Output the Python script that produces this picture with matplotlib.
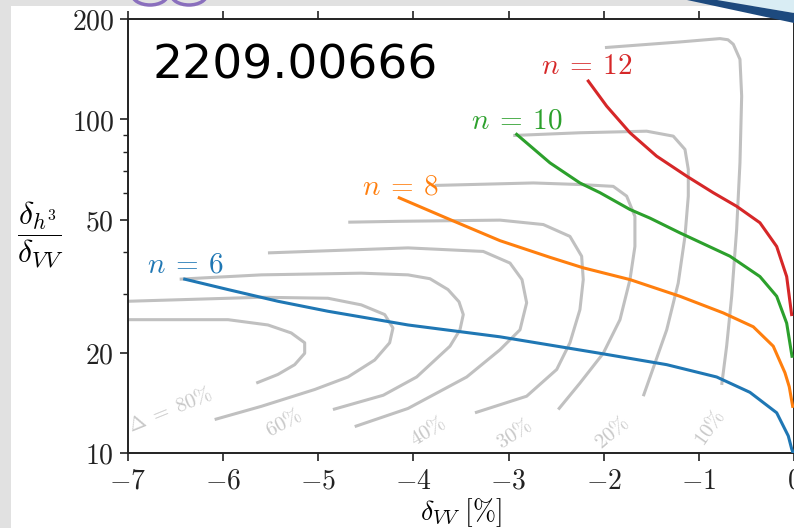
import matplotlib
matplotlib.use("Agg")
import matplotlib.pyplot as plt
from matplotlib.patches import Rectangle, Polygon, Ellipse
from matplotlib.ticker import FixedLocator, FixedFormatter, LogLocator, NullFormatter

plt.rcParams['mathtext.fontset'] = 'cm'
plt.rcParams['font.family'] = ['DejaVu Sans']

# ---------------- data ----------------
x_ticks = [-7, -6, -5, -4, -3, -2, -1, 0]
x_ticklabels = [r'$-7$', r'$-6$', r'$-5$', r'$-4$', r'$-3$', r'$-2$', r'$-1$', r'$0$']
y_ticks = [10, 20, 50, 100, 200]
y_ticklabels = [r'$10$', r'$20$', r'$50$', r'$100$', r'$200$']

# n-curves (x = delta_VV [%], y = delta_h3/delta_VV)
n6_x = [-6.404, -5.949, -5.424, -4.898, -4.057, -3.090, -2.039, -1.338, -0.813, -0.463, -0.182, -0.060, -0.025, -0.009]
n6_y = [33.2, 30.9, 28.5, 26.6, 24.2, 22.3, 19.9, 18.4, 16.9, 15.2, 13.2, 11.25, 10.3, 10.0]
n8_x = [-4.149, -3.616, -3.090, -2.565, -2.215, -1.724, -1.199, -0.744, -0.428, -0.218, -0.095, -0.050, -0.014]
n8_y = [58.2, 50.1, 43.3, 38.6, 35.9, 33.1, 29.5, 26.3, 23.9, 20.9, 17.4, 15.8, 13.8]
n10_x = [-2.915, -2.565, -2.250, -2.039, -1.724, -1.514, -1.199, -0.673, -0.358, -0.182, -0.077, -0.021]
n10_y = [90.2, 74.1, 64.5, 60.3, 53.7, 50.6, 45.7, 38.9, 33.8, 29.5, 24.5, 19.5]
n12_x = [-2.162, -1.969, -1.724, -1.444, -1.128, -0.849, -0.603, -0.358, -0.182, -0.077, -0.025]
n12_y = [130.3, 109.6, 91.2, 77.6, 67.6, 60.3, 54.9, 49.0, 41.6, 33.8, 26.0]

n_labels = [r'$n\:=\:6$', r'$n\:=\:8$', r'$n\:=\:10$', r'$n\:=\:12$']
n_label_x = [-6.40, -4.14, -2.91, -2.18]
n_label_y = [36.7, 62.9, 99.3, 144.3]

# Delta contours (80% ... 10%)
d80_x = [-7.0, -5.949, -5.529, -5.284, -5.143, -5.143, -5.248, -5.424, -5.652]
d80_y = [25.1, 25.1, 24.2, 22.9, 21.4, 19.9, 18.4, 17.2, 16.2]
d70_x = [-7.0, -5.599, -4.898, -4.548, -4.302, -4.215, -4.250, -4.407, -4.688, -5.038, -5.599, -6.089]
d70_y = [28.5, 29.3, 29.1, 27.8, 26.0, 23.7, 21.4, 19.0, 16.9, 15.5, 13.8, 12.6]
d60_x = [-6.457, -5.599, -4.548, -4.057, -3.826, -3.637, -3.521, -3.476, -3.511, -3.616, -3.966, -4.317, -4.846]
d60_y = [33.2, 34.2, 34.6, 34.2, 33.3, 30.9, 28.4, 26.0, 23.4, 20.9, 16.9, 14.9, 13.5]
d50_x = [-5.529, -4.057, -3.266, -2.985, -2.859, -2.810, -2.880, -3.090, -3.440, -4.057, -4.617]
d50_y = [39.8, 41.2, 40.2, 37.1, 33.1, 28.2, 23.4, 20.4, 16.9, 13.6, 12.0]
d40_x = [-4.685, -4.141, -3.090, -2.635, -2.355, -2.232, -2.215, -2.250, -2.355, -2.494, -2.810, -3.353]
d40_y = [49.2, 49.5, 49.9, 48.4, 44.6, 38.9, 33.1, 26.9, 21.4, 17.8, 14.8, 13.2]
d30_x = [-3.774, -2.740, -2.250, -1.900, -1.759, -1.672, -1.672, -1.724, -1.829, -2.005, -2.250, -2.478]
d30_y = [63.4, 64.5, 63.8, 63.0, 58.9, 51.2, 41.6, 33.1, 25.1, 19.9, 16.2, 13.5]
d20_x = [-2.951, -2.250, -1.549, -1.269, -1.146, -1.111, -1.111, -1.146, -1.217, -1.338, -1.584]
d20_y = [89.5, 91.2, 92.2, 89.1, 81.3, 70.8, 58.9, 44.6, 32.3, 23.4, 14.8]
d10_x = [-1.987, -1.199, -0.778, -0.694, -0.638, -0.568, -0.550, -0.568, -0.603, -0.655, -0.708, -0.760]
d10_y = [164.2, 170.7, 174.7, 173.3, 168.0, 151.4, 117.5, 74.1, 46.7, 29.5, 20.9, 16.0]

delta_labels = [r'$\Delta\;=\;80\%$', r'$60\%$', r'$40\%$', r'$30\%$', r'$20\%$', r'$10\%$']
delta_label_x = [-6.55, -5.36, -3.85, -2.94, -1.91, -0.89]
delta_label_y = [13.5, 12.3, 11.6, 11.4, 11.5, 11.9]
delta_label_rot = [22, 28, 31, 33, 40, 55]

title_text = '2209.00666'

# ---------------- figure ----------------
W, H = 794, 528
fig = plt.figure(figsize=(W / 100, H / 100), dpi=100)
fig.patch.set_facecolor('#e1e1e1')

# slide-like background panel
fig.patches.append(Rectangle((11 / W, 0), 1 - 11 / W, 1 - 6 / H, transform=fig.transFigure,
                             facecolor='white', edgecolor='none', zorder=-5))
fig.patches.append(Polygon([(717 / W, 1), (1, 1), (1, 1 - 13 / H)], closed=True,
                           transform=fig.transFigure, facecolor='#d9edf4', edgecolor='none', zorder=5))
fig.patches.append(Polygon([(687 / W, 1), (717 / W, 1), (1, 1 - 13 / H), (1, 1 - 23 / H)], closed=True,
                           transform=fig.transFigure, facecolor='#1d4a7e', edgecolor='none', zorder=5))
for cx in (150, 189):
    fig.patches.append(Ellipse((cx / W, 1 + 6 / H), 36 / W, 22 / H, transform=fig.transFigure,
                               facecolor='none', edgecolor='#8a6fbd', linewidth=2.5, zorder=5))

ax = fig.add_axes([128 / W, 1 - 453 / H, 666 / W, 434 / H])
ax.set_zorder(2)
ax.set_facecolor('white')
ax.set_yscale('log')
ax.set_xlim(-7, 0)
ax.set_ylim(10, 200)

grey = '#c0c0c0'
for cx_, cy_ in [(d80_x, d80_y), (d70_x, d70_y), (d60_x, d60_y), (d50_x, d50_y),
                 (d40_x, d40_y), (d30_x, d30_y), (d20_x, d20_y), (d10_x, d10_y)]:
    ax.plot(cx_, cy_, color=grey, lw=2.2, solid_capstyle='butt', solid_joinstyle='round', zorder=2)

for lab, lx, ly, rot in zip(delta_labels, delta_label_x, delta_label_y, delta_label_rot):
    ax.text(lx, ly, lab, color='#c8c8c8', fontsize=15, rotation=rot,
            rotation_mode='anchor', ha='center', va='center', zorder=3)

colors = ['#1f77b4', '#ff7f0e', '#2ca02c', '#d62728']
for (cx_, cy_), col in zip([(n6_x, n6_y), (n8_x, n8_y), (n10_x, n10_y), (n12_x, n12_y)], colors):
    ax.plot(cx_, cy_, color=col, lw=2.2, solid_joinstyle='round', zorder=4)

for lab, lx, ly, col in zip(n_labels, n_label_x, n_label_y, colors):
    ax.text(lx, ly, lab, color=col, fontsize=21, ha='center', va='center', zorder=5)

ax.text(24 / 666, (453 - 66) / 434, title_text, transform=ax.transAxes, fontsize=34,
        family='DejaVu Sans', ha='left', va='center', color='black', zorder=5)

ax.xaxis.set_major_locator(FixedLocator(x_ticks))
ax.xaxis.set_major_formatter(FixedFormatter(x_ticklabels))
ax.yaxis.set_major_locator(FixedLocator(y_ticks))
ax.yaxis.set_major_formatter(FixedFormatter(y_ticklabels))
ax.yaxis.set_minor_locator(LogLocator(base=10, subs=(3, 4, 6, 7, 8, 9)))
ax.yaxis.set_minor_formatter(NullFormatter())

ax.tick_params(which='both', direction='out', top=True, right=True, colors='#222222')
ax.tick_params(which='major', length=6, width=1.2, labelsize=20, pad=4)
ax.tick_params(which='minor', length=3.5, width=1.0)
for s in ax.spines.values():
    s.set_linewidth(1.4)
    s.set_color('#222222')

ax.set_xlabel(r'$\delta_{VV}\ [\%]$', fontsize=20, labelpad=1)
fig.text(40 / W, 1 - 235 / H, r'$\dfrac{\delta_{h^3}}{\delta_{VV}}$', fontsize=23,
         ha='center', va='center')

fig.savefig('out.png', dpi=100, facecolor=fig.get_facecolor())
